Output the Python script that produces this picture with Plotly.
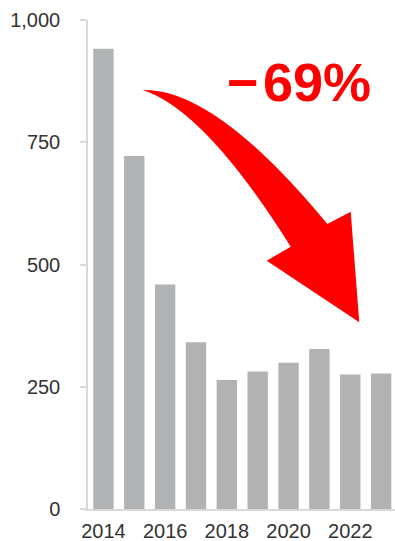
import plotly.graph_objects as go

years = [2014, 2015, 2016, 2017, 2018, 2019, 2020, 2021, 2022, 2023]
values = [941, 722, 459, 341, 264, 281, 299, 327, 275, 277]
tick_years = [2014, 2016, 2018, 2020, 2022]
y_ticks = [0, 250, 500, 750, 1000]
change_label = "\u2212\u200a69%"

W, H = 395, 541
ML, MR, MT, MB = 88, 0, 20, 32
PW, PH = W - ML - MR, H - MT - MB


def px(x, y):
    return (x - ML) / PW, (H - MB - y) / PH


def pt(x, y):
    a, b = px(x, y)
    return f"{a:.5f},{b:.5f}"


arrow_path = (
    f"M {pt(142.7, 90)} Q {pt(215, 88)} {pt(327.3, 224)} "
    f"L {pt(350.7, 211.7)} L {pt(359.3, 322.3)} L {pt(266.7, 260.7)} "
    f"L {pt(290.7, 246.7)} Q {pt(205, 110)} {pt(142.7, 90)} Z"
)

fig = go.Figure()
fig.add_trace(go.Bar(
    x=years, y=values, width=0.66,
    marker=dict(color="#b1b2b4", line=dict(width=0)),
    hoverinfo="skip",
))

tx, ty = px(298.5, 82)
fig.add_annotation(
    x=tx, y=ty, xref="paper", yref="paper", text=change_label,
    showarrow=False, xanchor="center", yanchor="middle",
    font=dict(family="Liberation Sans, Arial", size=54, color="#ff0000", weight="bold"),
)

fig.add_shape(type="path", path=arrow_path, xref="paper", yref="paper",
              fillcolor="#ff0000", line=dict(width=0), layer="above")

fig.update_layout(
    width=W, height=H,
    margin=dict(l=ML, r=MR, t=MT, b=MB, pad=0),
    paper_bgcolor="white", plot_bgcolor="white",
    showlegend=False,
    font=dict(family="Liberation Sans, Arial", size=20, color="#333333"),
    xaxis=dict(
        range=[2013.5, 2023.45], tickvals=tick_years,
        ticktext=[str(t) for t in tick_years],
        showgrid=False, zeroline=False, showline=True,
        linecolor="#d9d9d9", linewidth=1.5, ticks="",
        ticklabelstandoff=3, fixedrange=True,
    ),
    yaxis=dict(
        range=[0, 1000], tickvals=y_ticks, tickformat=",",
        showgrid=False, zeroline=False, showline=True,
        linecolor="#d9d9d9", linewidth=1.5,
        ticks="outside", ticklen=6, tickcolor="#d9d9d9", tickwidth=1.5,
        ticklabelstandoff=16, fixedrange=True,
    ),
)

fig.write_html("out.html", config={"displayModeBar": False})
